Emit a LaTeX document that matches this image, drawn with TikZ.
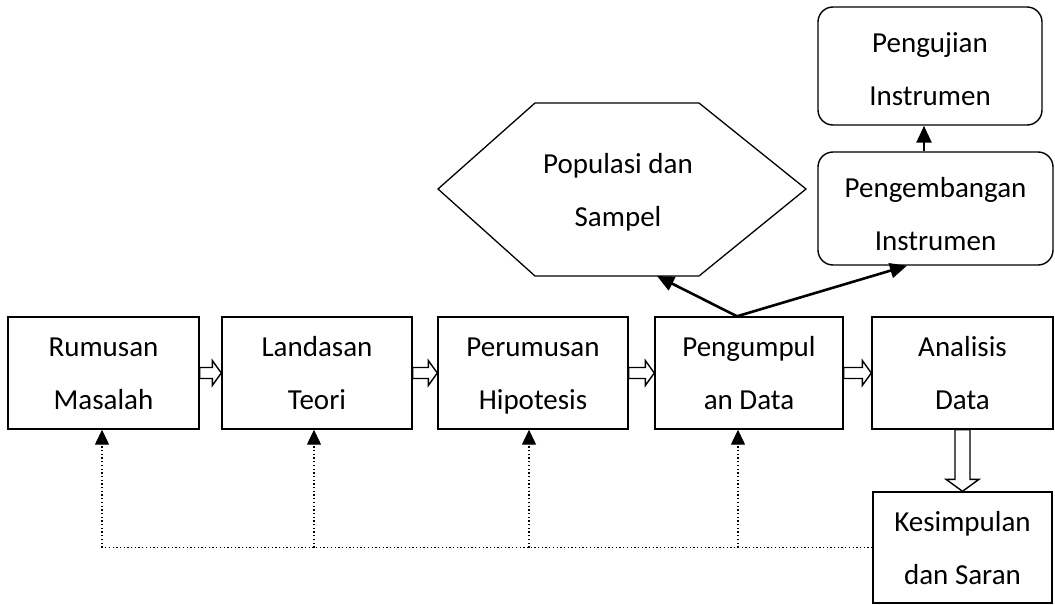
\documentclass[tikz,border=0pt]{standalone}
\usepackage{fontspec}
\setmainfont{Carlito}
\usetikzlibrary{arrows.meta,calc}
\newcommand\hollowright[2]{%
  \draw[hollow] let \p1=(#1.east), \p2=(#2.west) in
    (\x1,\y1+5.5pt) -- (\x2-9pt,\y1+5.5pt) -- (\x2-9pt,\y1+12.5pt) -- (\x2,\y1)
    -- (\x2-9pt,\y1-12.5pt) -- (\x2-9pt,\y1-5.5pt) -- (\x1,\y1-5.5pt) -- cycle;}
\newcommand\twoline[3][28pt]{\rule{0pt}{#1}#2\\#3\rule[-8pt]{0pt}{8pt}}
\begin{document}
\begin{tikzpicture}[x=1pt,y=-1pt,
  txt/.style={inner sep=0pt,align=center,font=\fontsize{29}{53}\selectfont},
  box/.style={txt,draw,line width=1.4pt,minimum height=112pt},
  rbox/.style={box,rounded corners=15pt},
  hollow/.style={draw,line width=1.4pt,fill=white,line join=miter},
  solidarr/.style={line width=2.6pt,-{Triangle[length=17pt,width=15pt]}},
  dotline/.style={line width=1.3pt,dash pattern=on 1.3pt off 2.4pt},
  dotarr/.style={dotline,-{Triangle[length=15pt,width=14pt]}},
]
\useasboundingbox (0,0) rectangle (1055,605);

% main row
\node[box,minimum width=191pt] (rm) at (103.5,373) {\twoline{Rumusan}{Masalah}};
\node[box,minimum width=190pt] (lt) at (317,373) {\twoline{Landasan}{Teori}};
\node[box,minimum width=190pt] (ph) at (533,373) {\twoline{Perumusan}{Hipotesis}};
\node[box,minimum width=188pt] (pg) at (749,373) {\twoline{Pengumpul}{an Data}};
\node[box,minimum width=181pt] (an) at (962.5,373) {\twoline{Analisis}{Data}};
\node[box,minimum width=179pt,minimum height=111pt] (ks) at (962.5,547.5) {\twoline{Kesimpulan}{dan Saran}};

% upper right
\node[rbox,minimum width=224pt,minimum height=118pt] (pu) at (930,66) {\twoline[33pt]{Pengujian}{Instrumen}};
\node[rbox,minimum width=235pt,minimum height=113pt] (pb) at (935.5,208.5) {\twoline[38pt]{Pengembangan}{Instrumen}};

% hexagon
\draw[line width=1.3pt] (438,189) -- (535,103) -- (699,103) -- (806,189) -- (699,276) -- (535,276) -- cycle;
\node[txt] (pop) at (618,189.5) {\twoline{Populasi dan}{Sampel}};
\coordinate (popin) at (657,276);

% hollow arrows
\hollowright{rm}{lt}
\hollowright{lt}{ph}
\hollowright{ph}{pg}
\hollowright{pg}{an}
\draw[hollow] let \p1=(an.south), \p2=(ks.north) in
  (\x1-7.5pt,\y1) -- (\x1-7.5pt,\y2+12pt) -- (\x1-16.5pt,\y2+12pt) -- (\x1,\y2)
  -- (\x1+16.5pt,\y2+12pt) -- (\x1+7.5pt,\y2+12pt) -- (\x1+7.5pt,\y1) -- cycle;

% solid arrows
\draw[solidarr] (737,0 |- pg.north) -- (popin);
\draw[solidarr] (737,0 |- pg.north) -- (907,0 |- pb.south);
\draw[solidarr] (924,0 |- pb.north) -- (924,0 |- pu.south);

% dotted feedback
\coordinate (d1) at (102,547.5);
\coordinate (d2) at (314,547.5);
\coordinate (d3) at (529,547.5);
\coordinate (d4) at (738,547.5);
\draw[dotline] (ks.west) -- (d1);
\draw[dotarr] (d1) -- (d1 |- rm.south);
\draw[dotarr] (d2) -- (d2 |- lt.south);
\draw[dotarr] (d3) -- (d3 |- ph.south);
\draw[dotarr] (d4) -- (d4 |- pg.south);
\end{tikzpicture}
\end{document}
